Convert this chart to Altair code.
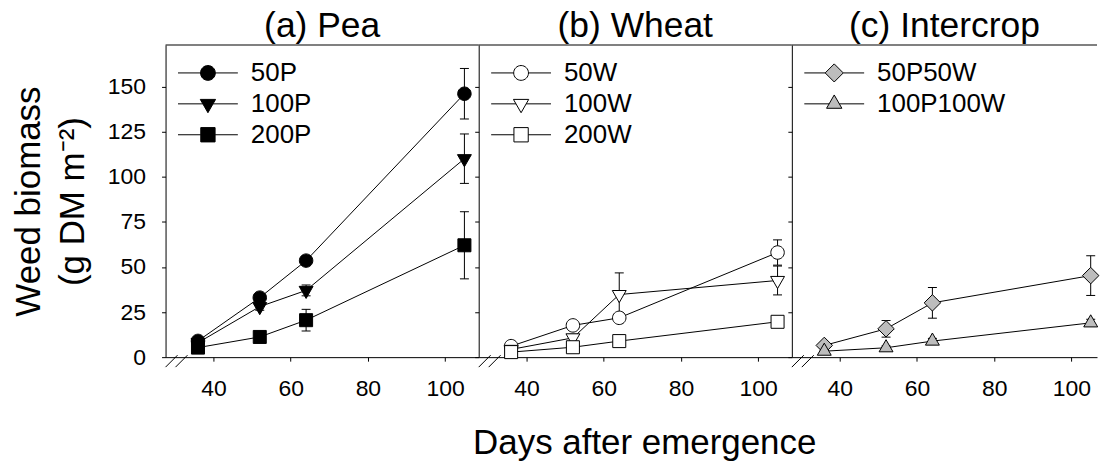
import altair as alt
import pandas as pd

FONT = "Liberation Sans"

# ---- data ----
DAYS = [36, 52, 64, 105]

P50 = [9.0, 33.0, 53.5, 146.0]
P50_SE = [1.5, 2.0, 2.5, 14.0]
P100 = [8.0, 28.0, 37.0, 110.0]
P100_SE = [1.5, 2.0, 3.0, 13.7]
P200 = [5.3, 11.2, 20.5, 62.0]
P200_SE = [1.0, 1.5, 6.0, 18.6]

W50 = [6.1, 17.6, 21.8, 58.0]
W50_SE = [1.0, 2.0, 2.0, 7.0]
W100 = [4.3, 10.7, 34.7, 42.5]
W100_SE = [1.0, 2.0, 12.0, 8.0]
W200 = [2.8, 5.5, 8.9, 19.6]
W200_SE = [0.5, 1.0, 1.5, 2.0]

I50 = [6.5, 15.7, 30.1, 45.2]
I50_SE = [1.5, 4.6, 8.5, 11.0]
I100 = [3.3, 5.2, 8.9, 19.0]
I100_SE = [0.5, 1.0, 1.5, 2.0]

PEA_SERIES = ["50P", "100P", "200P"]
WHEAT_SERIES = ["50W", "100W", "200W"]
INTER_SERIES = ["50P50W", "100P100W"]

X_TICKS = [40, 60, 80, 100]
Y_TICKS = [0, 25, 50, 75, 100, 125, 150]


def frame(names, means, ses):
    rows = []
    for n, m, s in zip(names, means, ses):
        for d, v, e in zip(DAYS, m, s):
            rows.append({"series": n, "day": d, "mean": v, "lo": v - e, "hi": v + e})
    return pd.DataFrame(rows)


df_pea = frame(PEA_SERIES, [P50, P100, P200], [P50_SE, P100_SE, P200_SE])
df_wheat = frame(WHEAT_SERIES, [W50, W100, W200], [W50_SE, W100_SE, W200_SE])
df_inter = frame(INTER_SERIES, [I50, I100], [I50_SE, I100_SE])


# ---- marker shapes (custom SVG paths, unit = sqrt(size)/2) ----
def poly(pts):
    return "M" + "L".join(f"{x:.3f},{y:.3f}" for x, y in pts) + "Z"


def circle(r):
    return f"M{r},0A{r},{r},0,1,1,{-r},0A{r},{r},0,1,1,{r},0Z"


def tri_down(s):
    return poly([(-0.93 * s, -0.54 * s), (0.93 * s, -0.54 * s), (0, 1.08 * s)])


def tri_up(s):
    return poly([(-0.93 * s, 0.54 * s), (0.93 * s, 0.54 * s), (0, -1.08 * s)])


def square(s):
    h = 0.87 * s
    return poly([(-h, -h), (h, -h), (h, h), (-h, h)])


def diamond(s):
    h = 1.1 * s
    return poly([(0, -h), (h, 0), (0, h), (-h, 0)])


def with_line(path, edge):
    return f"M-4,0H{-edge:.3f}M{edge:.3f},0H4" + path


LS = 1.1  # legend marker scale
PEA_MARK = [circle(0.9), tri_down(1.0), square(1.0)]
PEA_LEG = [with_line(circle(0.9 * LS), 0.9 * LS),
           with_line(tri_down(LS), 0.93 * LS * 1.08 / 1.62),
           with_line(square(LS), 0.87 * LS)]
WHEAT_MARK = PEA_MARK
WHEAT_LEG = PEA_LEG
INTER_MARK = [diamond(1.0), tri_up(1.0)]
INTER_LEG = [with_line(diamond(LS), 1.1 * LS),
             with_line(tri_up(LS), 0.93 * LS * 1.08 / 1.62)]

H = 313
W_AB = 314
W_C = 306
XDOM = [27.6, 108.7]
XDOM_C = [27.6, 27.6 + (108.7 - 27.6) * W_C / W_AB]
YDOM = [0, 173]
MSIZE = 225


def x_axis(with_title):
    kw = dict(values=X_TICKS, orient="bottom", tickSize=4, labelPadding=16,
              labelFontSize=23, labelFont=FONT, labelColor="black",
              domainColor="black", tickColor="black", grid=False,
              labelFlush=False, labelOverlap=False)
    if with_title:
        kw.update(title="Days after emergence", titleFontSize=35, titleFont=FONT,
                  titleFontWeight="normal", titleColor="black", titleX=166,
                  titleY=97, titleBaseline="alphabetic", titleAlign="center")
    else:
        kw.update(title=None)
    return alt.Axis(**kw)


def y_axis(first):
    kw = dict(values=Y_TICKS, orient="left", tickSize=4, labelPadding=16,
              labelFontSize=23, labelFont=FONT, labelColor="black",
              domainColor="black", tickColor="black", grid=False, labels=first)
    if first:
        kw.update(title=["Weed biomass", "(g DM m\u207b\u00b2)"], titleFontSize=35,
                  titleFont=FONT, titleFontWeight="normal", titleColor="black",
                  titleX=-126, titleY=H / 2, titleAngle=270, titleAlign="center",
                  titleBaseline="alphabetic", titleLineHeight=44)
    else:
        kw.update(title=None)
    return alt.Axis(**kw)


def panel(df, series, fill, marks, legs, title, width, xdom, first, middle):
    xs = alt.Scale(domain=xdom, nice=False, zero=False)
    ys = alt.Scale(domain=YDOM, nice=False)
    base = alt.Chart(df)
    X = alt.X("day:Q", scale=xs, axis=x_axis(middle))

    def Y(field):
        return alt.Y(field, type="quantitative", scale=ys, axis=y_axis(first))

    line = base.mark_line(color="black", strokeWidth=1).encode(
        x=X, y=Y("mean"), detail="series:N", order="day:Q")
    bars = base.mark_rule(color="black", strokeWidth=1).encode(
        x=X, y=Y("lo"), y2="hi:Q")
    cap_lo = base.mark_tick(orient="horizontal", size=9, thickness=1, color="black",
                            opacity=1).encode(x=X, y=Y("lo"))
    cap_hi = base.mark_tick(orient="horizontal", size=9, thickness=1, color="black",
                            opacity=1).encode(x=X, y=Y("hi"))
    pts = base.mark_point(filled=True, fill=fill, stroke="black", strokeWidth=1,
                          opacity=1, size=MSIZE).encode(
        x=X, y=Y("mean"),
        shape=alt.Shape("series:N", scale=alt.Scale(domain=series, range=marks),
                        legend=None))
    leg = base.mark_point(filled=True, fill=fill, stroke="black", strokeWidth=1,
                          opacity=1, size=MSIZE).encode(
        x=X, y=Y("mean"),
        shape=alt.Shape("series:N", scale=alt.Scale(domain=series, range=legs),
                        legend=alt.Legend(orient="none", legendX=29.5, legendY=15,
                                          padding=0, title=None, symbolSize=MSIZE,
                                          labelFontSize=26, labelFont=FONT,
                                          labelColor="black", labelOffset=30,
                                          rowPadding=5, labelLimit=300,
                                          symbolStrokeWidth=1))
    ).transform_filter("false")
    one = pd.DataFrame({"k": [0]})
    top = alt.Chart(one).mark_rule(color="black", strokeWidth=1).encode(
        x=alt.value(0), x2=alt.value(width), y=alt.value(0))
    brk1 = alt.Chart(one).mark_rule(color="black", strokeWidth=1).encode(
        x=alt.value(0), x2=alt.value(12), y=alt.value(H + 10), y2=alt.value(H - 2))
    brk2 = alt.Chart(one).mark_rule(color="black", strokeWidth=1).encode(
        x=alt.value(10), x2=alt.value(22), y=alt.value(H + 10), y2=alt.value(H - 2))
    return alt.layer(line, bars, cap_lo, cap_hi, pts, leg, top, brk1, brk2).resolve_scale(
        shape="independent").properties(
        width=width, height=H,
        title=alt.TitleParams(title, fontSize=35.5, font=FONT, fontWeight="normal",
                              color="black", anchor="middle", offset=-35,
                              baseline="bottom"))


pa = panel(df_pea, PEA_SERIES, "black", PEA_MARK, PEA_LEG, "(a) Pea", W_AB, XDOM, True, False)
pb = panel(df_wheat, WHEAT_SERIES, "white", WHEAT_MARK, WHEAT_LEG, "(b) Wheat", W_AB, XDOM, False, True)
pc = panel(df_inter, INTER_SERIES, "#bdbdbd", INTER_MARK, INTER_LEG, "(c) Intercrop", W_C, XDOM_C, False, False)

chart = alt.hconcat(pa, pb, pc, spacing=0, bounds="flush").resolve_scale(
    shape="independent").resolve_legend(shape="independent").properties(
    padding={"left": 12, "top": 8.5, "right": 0, "bottom": 0},
    background="white").configure_view(stroke=None)

chart.save("out.html", embed_options={"renderer": "svg", "actions": False})
